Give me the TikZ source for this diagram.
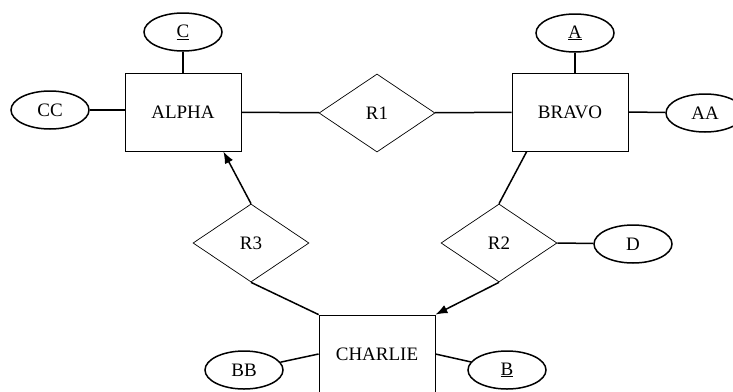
\documentclass[tikz,border=0pt]{standalone}
\usepackage{fontspec}
\setmainfont{Liberation Serif}
\usetikzlibrary{calc,shapes.geometric,arrows.meta}
\tikzset{%
     entity/.style = { draw, line width=.8pt, minimum width=116pt, minimum height=78pt, inner sep=0pt },
    relship/.style = { draw, diamond, line width=.7pt, minimum width=116pt, minimum height=78pt, inner sep=0pt, shape aspect=1.5 },
     attrib/.style = { draw, ellipse, line width=1.5pt, minimum width=78pt, minimum height=38pt, inner sep=0pt },
       conn/.style = { line width=1.5pt },
        arr/.style = { conn, -{Latex[length=12pt,width=9pt]} }
}

\begin{document}
\begin{tikzpicture}[x=1pt,y=-1pt,font=\fontsize{19}{22}\selectfont]

  \clip (0,0) rectangle (733,391);

  \node[entity] (alpha) at (183,112) {ALPHA};
  \node[entity] (bravo) at (570,112) {BRAVO};
  \node[entity] (charlie) at (377,354) {CHARLIE};

  \node[relship] (r1) at (377,113) {R1};
  \node[relship] (r2) at (499,243) {R2};
  \node[relship] (r3) at (251,243) {R3};

  \node[attrib] (c) at (183,32) {\underline{C}};
  \node[attrib] (cc) at (50,110) {CC};
  \node[attrib] (a) at (575,33) {\underline{A}};
  \node[attrib] (aa) at (705,113) {AA};
  \node[attrib] (d) at (633,244) {D};
  \node[attrib] (bb) at (244,370) {BB};
  \node[attrib] (b) at (507,370) {\underline{B}};

  \draw[conn] (c) -- (alpha);
  \draw[conn] (cc.east) -- (cc.east -| alpha.west);
  \draw[conn] (alpha) -- (r1);
  \draw[conn] (r1) -- (bravo);
  \draw[conn] (a.south) -- (a.south |- bravo.north);
  \draw[conn] (bravo.east) -- (aa);
  \draw[conn] ($(bravo.south west)!.13!(bravo.south east)$) -- (r2.north);
  \draw[conn] (r2.east) -- (d);
  \draw[arr] (r2.south) -- (charlie.north east);
  \draw[conn] (r3.south) -- (charlie.north west);
  \draw[arr] (r3.north) -- ($(alpha.south west)!.845!(alpha.south east)$);
  \draw[conn] (charlie.west) -- (bb);
  \draw[conn] (charlie.east) -- (b);

\end{tikzpicture}
\end{document}
